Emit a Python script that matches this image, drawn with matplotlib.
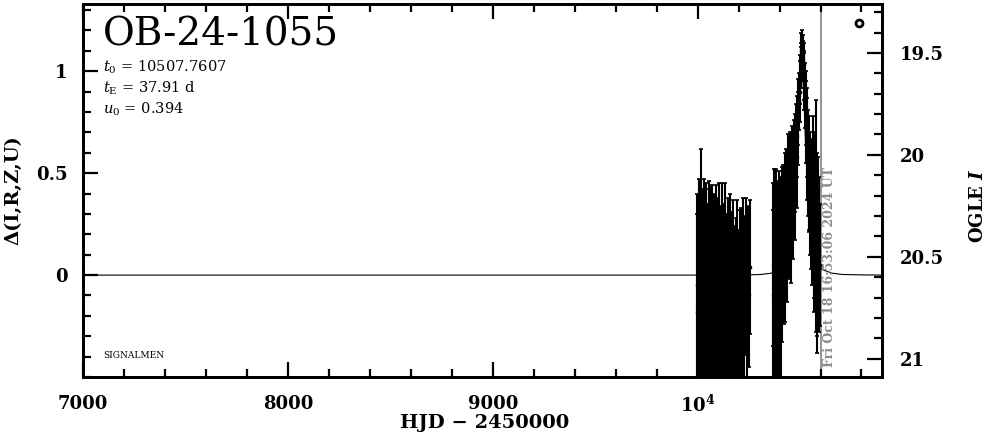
import matplotlib
matplotlib.use("Agg")
import matplotlib.pyplot as plt
from matplotlib.ticker import MultipleLocator

plt.rcParams["font.family"] = ["DejaVu Serif"]
plt.rcParams["mathtext.fontset"] = "dejavuserif"

# event info
event_name = "OB-24-1055"
t0_text = "10507.7607"
te_text = "37.91"
u0_text = "0.394"
now_hjd = 10601.2
now_text = "Fri Oct 18 16:53:06 2024 UT"
base_mag = 20.59

# OGLE photometry (HJD - 2450000, delta mag, error)
season1_t = [9996, 9999, 10003, 10006, 10009, 10012, 10015, 10018, 10021, 10024,
             10027, 10030, 10033, 10036, 10040, 10043, 10046, 10049, 10052, 10055,
             10058, 10061, 10064, 10067, 10070, 10073, 10076, 10079, 10082, 10085,
             10088, 10091, 10094, 10097, 10100, 10103, 10106, 10109, 10112, 10115,
             10118, 10121, 10124, 10127, 10130, 10133, 10136, 10139, 10142, 10145,
             10148, 10151, 10154, 10157, 10160, 10163, 10166, 10169, 10172, 10175,
             10178, 10182, 10186, 10190, 10194, 10198, 10202, 10206, 10210, 10214,
             10218, 10222, 10226, 10230, 10235, 10240, 10245, 10250, 10254]
season1_dm = [-0.05, -0.18, -0.32, 0.02, -0.25, -0.40, 0.10, -0.12, -0.28, -0.08,
              -0.35, 0.05, -0.20, -0.42, -0.10, 0.00, -0.30, -0.15, -0.38, 0.08,
              -0.22, -0.05, -0.33, -0.18, 0.04, -0.27, -0.12, -0.40, -0.02, -0.20,
              -0.30, 0.06, -0.15, -0.35, -0.08, -0.25, 0.00, -0.18, -0.32, -0.10,
              0.03, -0.28, -0.14, -0.38, -0.05, -0.22, 0.07, -0.30, -0.12, -0.20,
              -0.02, -0.35, -0.16, 0.04, -0.26, -0.09, -0.31, -0.18, 0.02, -0.24,
              -0.12, -0.36, -0.06, -0.20, 0.05, -0.28, -0.14, -0.02, -0.22, 0.00,
              -0.15, 0.08, -0.25, -0.05, 0.10, -0.18, 0.02, -0.10, 0.04]
season1_err = [0.45, 0.48, 0.42, 0.45, 0.50, 0.44, 0.52, 0.46, 0.40, 0.50,
               0.44, 0.42, 0.48, 0.46, 0.52, 0.45, 0.40, 0.50, 0.44, 0.38,
               0.46, 0.48, 0.42, 0.50, 0.40, 0.45, 0.48, 0.44, 0.42, 0.50,
               0.46, 0.38, 0.44, 0.48, 0.46, 0.42, 0.45, 0.50, 0.40, 0.44,
               0.42, 0.46, 0.48, 0.44, 0.40, 0.45, 0.38, 0.48, 0.42, 0.44,
               0.40, 0.46, 0.42, 0.36, 0.44, 0.40, 0.42, 0.38, 0.35, 0.40,
               0.36, 0.42, 0.34, 0.38, 0.32, 0.40, 0.36, 0.34, 0.38, 0.33,
               0.36, 0.30, 0.38, 0.34, 0.28, 0.36, 0.32, 0.35, 0.33]

season2_t = [10366, 10369, 10372, 10375, 10378, 10381, 10384, 10387, 10390, 10393,
             10396, 10399, 10402, 10405, 10408, 10411, 10414, 10417, 10421, 10425,
             10429, 10433, 10437, 10441, 10445, 10449, 10453, 10457, 10461, 10465,
             10469, 10473, 10477, 10480, 10483, 10486, 10489, 10492, 10495, 10498,
             10501, 10503, 10505, 10507, 10509, 10511, 10513, 10515, 10517, 10519,
             10521, 10524, 10527, 10530, 10533, 10536, 10539, 10542, 10546, 10550,
             10554, 10558, 10562, 10566, 10570, 10574, 10578, 10581, 10585, 10589,
             10592, 10595, 10598]
season2_dm = [-0.10, 0.05, -0.18, 0.10, -0.05, -0.22, 0.12, 0.00, -0.15, 0.08,
              -0.08, 0.15, -0.02, 0.10, -0.12, 0.18, 0.05, 0.20, 0.12, 0.25,
              0.15, 0.30, 0.22, 0.35, 0.28, 0.32, 0.40, 0.30, 0.45, 0.38,
              0.50, 0.45, 0.55, 0.62, 0.58, 0.68, 0.72, 0.80, 0.85, 0.90,
              0.96, 1.02, 1.06, 1.10, 1.08, 1.12, 1.05, 1.09, 1.03, 0.98,
              0.95, 0.88, 0.82, 0.75, 0.70, 0.62, 0.55, 0.50, 0.45, 0.40,
              0.35, 0.30, 0.38, 0.25, 0.20, 0.28, 0.29, 0.15, 0.05, 0.18,
              0.10, -0.01, 0.05]
season2_err = [0.42, 0.40, 0.38, 0.42, 0.45, 0.36, 0.40, 0.44, 0.40, 0.38,
               0.42, 0.36, 0.40, 0.38, 0.42, 0.35, 0.38, 0.34, 0.36, 0.35,
               0.38, 0.32, 0.35, 0.34, 0.30, 0.32, 0.30, 0.34, 0.28, 0.30,
               0.26, 0.28, 0.24, 0.22, 0.25, 0.20, 0.18, 0.16, 0.14, 0.15,
               0.12, 0.10, 0.08, 0.09, 0.07, 0.08, 0.10, 0.09, 0.11, 0.12,
               0.14, 0.16, 0.18, 0.20, 0.22, 0.25, 0.26, 0.28, 0.24, 0.30,
               0.32, 0.35, 0.40, 0.36, 0.38, 0.42, 0.57, 0.45, 0.43, 0.40,
               0.38, 0.18, 0.30]

# fitted model curve (t, delta mag)
model_t = [7000, 10000, 10250, 10308, 10358, 10408, 10428, 10448, 10458, 10468,
           10478, 10488, 10498, 10508, 10518, 10528, 10538, 10548, 10558, 10568,
           10588, 10608, 10658, 10708, 10808, 10900]
model_dm = [0.0, 0.0, 0.001, 0.003, 0.009, 0.027, 0.052, 0.110, 0.166, 0.255,
            0.395, 0.611, 0.896, 1.072, 0.896, 0.611, 0.395, 0.255, 0.166, 0.110,
            0.052, 0.027, 0.009, 0.003, 0.001, 0.0]

xticks = [7000, 8000, 9000, 10000]
xtick_labels = ["7000", "8000", "9000", "$\\mathbf{10^4}$"]
yticks = [0, 0.5, 1]
ytick_labels = ["0", "0.5", "1"]
magticks = [19.5, 20, 20.5, 21]
magtick_labels = ["19.5", "20", "20.5", "21"]

fig = plt.figure(figsize=(9.86, 4.34), dpi=100)
ax = fig.add_axes([0.0842, 0.1313, 0.8103, 0.8595])

ax.plot(model_t, model_dm, color="black", lw=0.8, zorder=2)
for tt, dm, er in [(season1_t, season1_dm, season1_err), (season2_t, season2_dm, season2_err)]:
    ax.errorbar(tt, dm, yerr=er, fmt="s", ms=2, color="black", ecolor="black",
                elinewidth=1.5, capsize=1.5, capthick=1.2, zorder=3)

ax.axvline(now_hjd, color="#8c8c8c", lw=1.3, zorder=1)
ax.text(now_hjd + 45, -0.45, now_text, rotation=90, ha="center", va="bottom",
        color="#8c8c8c", fontsize=9, fontweight="bold")

ax.set_xlim(7000, 10900)
ax.set_ylim(-0.5, 1.33)

ax.set_xticks(xticks)
ax.set_xticklabels(xtick_labels)
ax.set_yticks(yticks)
ax.set_yticklabels(ytick_labels)
ax.xaxis.set_minor_locator(MultipleLocator(200))
ax.yaxis.set_minor_locator(MultipleLocator(0.1))
ax.tick_params(which="both", direction="in", top=True, right=False, width=1.6)
ax.tick_params(which="major", length=11)
ax.tick_params(which="minor", length=6)
ax.tick_params(axis="x", labelsize=13, pad=13)
ax.tick_params(axis="y", labelsize=13, pad=11)
for lab in ax.get_xticklabels() + ax.get_yticklabels():
    lab.set_fontweight("bold")
for sp in ax.spines.values():
    sp.set_linewidth(2)

# magnitude axis on the right
ax2 = ax.twinx()
ax2.set_ylim(base_mag + 0.5, base_mag - 1.33)
ax2.set_yticks(magticks)
ax2.set_yticklabels(magtick_labels)
ax2.yaxis.set_minor_locator(MultipleLocator(0.1))
ax2.tick_params(which="both", direction="in", width=1.6, labelsize=13, pad=13)
ax2.tick_params(which="major", length=11)
ax2.tick_params(which="minor", length=6)
for lab in ax2.get_yticklabels():
    lab.set_fontweight("bold")
for sp in ax2.spines.values():
    sp.set_linewidth(2)

# OGLE marker
ax.plot([0.971], [0.949], transform=ax.transAxes, marker="o", ms=5, mfc="none",
        mec="black", mew=2, clip_on=False)

# labels and texts
fig.text(0.491, 0.026, "HJD \u2212 2450000", ha="center", va="center",
         fontsize=14, fontweight="bold")
fig.text(0.014, 0.562, "\u0394(I,R,Z,U)", rotation=90, ha="center", va="center",
         fontsize=14, fontweight="bold")
fig.text(0.992, 0.525, "OGLE $\\mathbfit{I}$", rotation=90, ha="center", va="center",
         fontsize=13, fontweight="bold")

fig.text(0.1045, 0.896, event_name, fontsize=28, ha="left", va="baseline")
fig.text(0.1045, 0.836, "$t_0$ = " + t0_text, fontsize=10.5, ha="left", va="baseline")
fig.text(0.1045, 0.786, "$t_\\mathrm{E}$ = " + te_text + " d", fontsize=10.5, ha="left", va="baseline")
fig.text(0.1045, 0.739, "$u_0$ = " + u0_text, fontsize=10.5, ha="left", va="baseline")
fig.text(0.1045, 0.175, "SIGNALMEN", fontsize=6.5, ha="left", va="baseline")

plt.savefig("out.png", dpi=100)
